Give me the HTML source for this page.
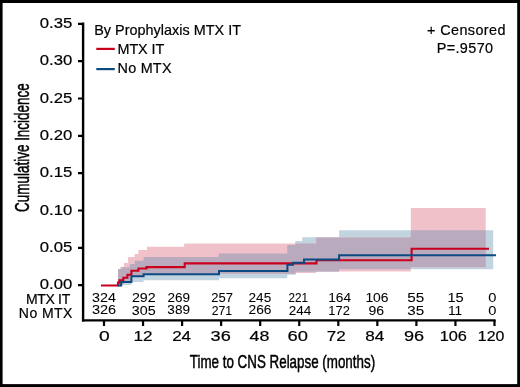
<!DOCTYPE html>
<html><head><meta charset="utf-8"><style>
html,body{margin:0;padding:0;background:#000;overflow:hidden;}
svg{display:block;will-change:transform;}
text{font-family:"Liberation Sans",sans-serif;fill:#000;stroke:#000;stroke-width:0.2px;}
</style></head><body>
<svg width="520" height="387" viewBox="0 0 520 387">
<rect x="0" y="0" width="520" height="387" fill="#000"/>
<rect x="2.6" y="3" width="514.6" height="381.1" fill="#fff"/>
<path d="M118.10 269.00 L122.00 269.00 L122.00 267.30 L129.80 267.30 L129.80 264.00 L134.90 264.00 L134.90 260.80 L143.60 260.80 L143.60 257.10 L218.80 257.10 L218.80 253.60 L287.30 253.60 L287.30 245.00 L295.30 245.00 L295.30 241.00 L302.30 241.00 L302.30 237.20 L339.10 237.20 L339.10 230.30 L493.20 230.30 L493.20 269.20 L339.10 269.20 L339.10 271.50 L316.20 271.50 L316.20 271.80 L295.60 271.80 L295.60 274.80 L287.30 274.80 L287.30 278.20 L219.00 278.20 L219.00 280.30 L143.60 280.30 L143.60 282.00 L131.40 282.00 L131.40 285.00 L122.50 285.00 L122.50 285.50 L118.10 285.50 Z" fill="#c3d4e1"/>
<path d="M118.10 269.00 L120.20 269.00 L120.20 266.70 L124.00 266.70 L124.00 263.10 L128.10 263.10 L128.10 257.10 L134.60 257.10 L134.60 254.10 L138.40 254.10 L138.40 249.90 L147.00 249.90 L147.00 246.80 L184.20 246.80 L184.20 243.40 L316.20 243.40 L316.20 237.50 L410.80 237.50 L410.80 208.10 L485.70 208.10 L485.70 267.30 L410.80 267.30 L410.80 271.50 L316.20 271.50 L316.20 273.00 L296.00 273.00 L296.00 273.80 L143.60 273.80 L143.60 276.50 L131.40 276.50 L131.40 281.00 L124.00 281.00 L124.00 284.00 L118.10 284.00 Z" fill="#f1c1c9"/>
<path d="M118.10 269.00 L122.00 269.00 L122.00 267.30 L129.80 267.30 L129.80 264.00 L134.90 264.00 L134.90 260.80 L143.60 260.80 L143.60 257.10 L218.80 257.10 L218.80 253.60 L287.30 253.60 L287.30 245.00 L295.30 245.00 L295.30 243.40 L316.20 243.40 L316.20 237.50 L410.80 237.50 L410.80 230.30 L485.70 230.30 L485.70 267.30 L410.80 267.30 L410.80 269.20 L339.10 269.20 L339.10 271.50 L316.20 271.50 L316.20 271.80 L295.60 271.80 L295.60 273.80 L143.60 273.80 L143.60 276.50 L131.40 276.50 L131.40 281.00 L124.00 281.00 L124.00 284.00 L118.10 284.00 Z" fill="#b9aabe"/>
<path d="M101 285.5H118V282.6H119.4V280.2H123.3V277.8H127.4V274.7H131.4V270.8H138.4V268.5H146.5V267.1H184.7V263.4H316.5V260.3H411.6V248.7H489" fill="none" stroke="#c8001e" stroke-width="2.1"/>
<path d="M117.5 285.5H121.2V282H131.4V276.2H143.6V274.3H219V270.9H287.4V264.7H293V262.8H304V259.5H339.1V255.3H496" fill="none" stroke="#0b4a82" stroke-width="2"/>
<g stroke="#000" stroke-width="2.2" fill="none">
<path d="M83.1 22.4V321.4" stroke-width="2.4"/><path d="M82 320.4H495.6"/>
<path d="M78 23.80H83M78 61.14H83M78 98.49H83M78 135.83H83M78 173.17H83M78 210.52H83M78 247.86H83M78 285.20H83"/>
<path d="M104.00 320V326M143.05 320V326M182.10 320V326M221.15 320V326M260.20 320V326M299.25 320V326M338.30 320V326M377.35 320V326M416.40 320V326M455.45 320V326M494.50 320V326"/>
</g>
<path d="M96.3 48.9H114.8" stroke="#c8001e" stroke-width="2.2"/>
<path d="M96.3 69.1H114.8" stroke="#0b4a82" stroke-width="2.2"/>
<text x="72.36" y="28.36" font-size="15" text-anchor="end" textLength="32.56" lengthAdjust="spacingAndGlyphs">0.35</text>
<text x="72.27" y="65.16" font-size="15" text-anchor="end" textLength="32.48" lengthAdjust="spacingAndGlyphs">0.30</text>
<text x="72.36" y="102.84" font-size="15" text-anchor="end" textLength="32.56" lengthAdjust="spacingAndGlyphs">0.25</text>
<text x="72.27" y="140.44" font-size="15" text-anchor="end" textLength="32.48" lengthAdjust="spacingAndGlyphs">0.20</text>
<text x="72.36" y="177.32" font-size="15" text-anchor="end" textLength="32.56" lengthAdjust="spacingAndGlyphs">0.15</text>
<text x="72.27" y="214.96" font-size="15" text-anchor="end" textLength="32.48" lengthAdjust="spacingAndGlyphs">0.10</text>
<text x="72.36" y="251.80" font-size="15" text-anchor="end" textLength="32.56" lengthAdjust="spacingAndGlyphs">0.05</text>
<text x="72.27" y="289.41" font-size="15" text-anchor="end" textLength="32.48" lengthAdjust="spacingAndGlyphs">0.00</text>
<text x="104.43" y="341.30" font-size="15.3" text-anchor="middle" textLength="10.73" lengthAdjust="spacingAndGlyphs">0</text>
<text x="143.06" y="341.29" font-size="15.3" text-anchor="middle" textLength="19.09" lengthAdjust="spacingAndGlyphs">12</text>
<text x="181.61" y="341.28" font-size="15.3" text-anchor="middle" textLength="18.97" lengthAdjust="spacingAndGlyphs">24</text>
<text x="220.68" y="341.29" font-size="15.3" text-anchor="middle" textLength="20.21" lengthAdjust="spacingAndGlyphs">36</text>
<text x="259.38" y="341.31" font-size="15.3" text-anchor="middle" textLength="19.82" lengthAdjust="spacingAndGlyphs">48</text>
<text x="297.72" y="341.30" font-size="15.3" text-anchor="middle" textLength="20.44" lengthAdjust="spacingAndGlyphs">60</text>
<text x="336.27" y="341.30" font-size="15.3" text-anchor="middle" textLength="18.98" lengthAdjust="spacingAndGlyphs">72</text>
<text x="374.81" y="341.30" font-size="15.3" text-anchor="middle" textLength="19.06" lengthAdjust="spacingAndGlyphs">84</text>
<text x="414.07" y="341.26" font-size="15.3" text-anchor="middle" textLength="20.14" lengthAdjust="spacingAndGlyphs">96</text>
<text x="453.28" y="341.30" font-size="15.3" text-anchor="middle" textLength="27.31" lengthAdjust="spacingAndGlyphs">106</text>
<text x="491.16" y="341.29" font-size="15.3" text-anchor="middle" textLength="26.64" lengthAdjust="spacingAndGlyphs">120</text>
<text x="103.91" y="302.23" font-size="12" text-anchor="middle" textLength="23.93" lengthAdjust="spacingAndGlyphs" style="stroke-width:0.05px">324</text>
<text x="104.07" y="314.47" font-size="12" text-anchor="middle" textLength="24.26" lengthAdjust="spacingAndGlyphs" style="stroke-width:0.05px">326</text>
<text x="143.77" y="302.20" font-size="12" text-anchor="middle" textLength="23.72" lengthAdjust="spacingAndGlyphs" style="stroke-width:0.05px">292</text>
<text x="143.77" y="314.52" font-size="12" text-anchor="middle" textLength="23.82" lengthAdjust="spacingAndGlyphs" style="stroke-width:0.05px">305</text>
<text x="178.72" y="302.19" font-size="12" text-anchor="middle" textLength="22.55" lengthAdjust="spacingAndGlyphs" style="stroke-width:0.05px">269</text>
<text x="178.68" y="314.46" font-size="12" text-anchor="middle" textLength="22.63" lengthAdjust="spacingAndGlyphs" style="stroke-width:0.05px">389</text>
<text x="222.17" y="302.24" font-size="12" text-anchor="middle" textLength="21.63" lengthAdjust="spacingAndGlyphs" style="stroke-width:0.05px">257</text>
<text x="221.97" y="314.52" font-size="12" text-anchor="middle" textLength="20.44" lengthAdjust="spacingAndGlyphs" style="stroke-width:0.05px">271</text>
<text x="259.89" y="302.24" font-size="12" text-anchor="middle" textLength="22.68" lengthAdjust="spacingAndGlyphs" style="stroke-width:0.05px">245</text>
<text x="260.01" y="314.47" font-size="12" text-anchor="middle" textLength="22.95" lengthAdjust="spacingAndGlyphs" style="stroke-width:0.05px">266</text>
<text x="298.31" y="302.20" font-size="12" text-anchor="middle" textLength="19.53" lengthAdjust="spacingAndGlyphs" style="stroke-width:0.05px">221</text>
<text x="299.96" y="314.51" font-size="12" text-anchor="middle" textLength="22.53" lengthAdjust="spacingAndGlyphs" style="stroke-width:0.05px">244</text>
<text x="339.69" y="302.24" font-size="12" text-anchor="middle" textLength="22.84" lengthAdjust="spacingAndGlyphs" style="stroke-width:0.05px">164</text>
<text x="339.11" y="314.52" font-size="12" text-anchor="middle" textLength="21.46" lengthAdjust="spacingAndGlyphs" style="stroke-width:0.05px">172</text>
<text x="376.99" y="302.22" font-size="12" text-anchor="middle" textLength="23.14" lengthAdjust="spacingAndGlyphs" style="stroke-width:0.05px">106</text>
<text x="376.31" y="314.53" font-size="12" text-anchor="middle" textLength="15.64" lengthAdjust="spacingAndGlyphs" style="stroke-width:0.05px">96</text>
<text x="415.83" y="302.24" font-size="12" text-anchor="middle" textLength="16.95" lengthAdjust="spacingAndGlyphs" style="stroke-width:0.05px">55</text>
<text x="415.85" y="314.52" font-size="12" text-anchor="middle" textLength="16.93" lengthAdjust="spacingAndGlyphs" style="stroke-width:0.05px">35</text>
<text x="455.64" y="302.24" font-size="12" text-anchor="middle" textLength="16.29" lengthAdjust="spacingAndGlyphs" style="stroke-width:0.05px">15</text>
<text x="455.15" y="314.51" font-size="12" text-anchor="middle" textLength="14.27" lengthAdjust="spacingAndGlyphs" style="stroke-width:0.05px">11</text>
<text x="492.27" y="302.30" font-size="12" text-anchor="middle" textLength="8.17" lengthAdjust="spacingAndGlyphs" style="stroke-width:0.05px">0</text>
<text x="492.27" y="314.58" font-size="12" text-anchor="middle" textLength="8.17" lengthAdjust="spacingAndGlyphs" style="stroke-width:0.05px">0</text>
<text x="70.21" y="304.08" font-size="14" text-anchor="end" textLength="44.21" lengthAdjust="spacing">MTX IT</text>
<text x="72.39" y="318.43" font-size="14" text-anchor="end" textLength="53.55" lengthAdjust="spacing">No MTX</text>
<text x="94.22" y="35.07" font-size="14.4" textLength="146.77" lengthAdjust="spacing">By Prophylaxis MTX IT</text>
<text x="117.55" y="54.16" font-size="14.4" textLength="46.63" lengthAdjust="spacing">MTX IT</text>
<text x="117.54" y="73.20" font-size="14.4" textLength="53.95" lengthAdjust="spacing">No MTX</text>
<text x="426.98" y="35.32" font-size="14.4" textLength="78.44" lengthAdjust="spacing">+ Censored</text>
<text x="436.66" y="52.98" font-size="14.4" textLength="56.43" lengthAdjust="spacing">P=.9570</text>
<text x="189.77" y="368.40" font-size="19" textLength="185.34" lengthAdjust="spacingAndGlyphs" style="stroke-width:0.5px">Time to CNS Relapse (months)</text>
<text transform="translate(28.80 212.00) rotate(-90)" font-size="21" textLength="128.80" lengthAdjust="spacingAndGlyphs" style="stroke-width:0.55px">Cumulative Incidence</text>
</svg>
</body></html>
